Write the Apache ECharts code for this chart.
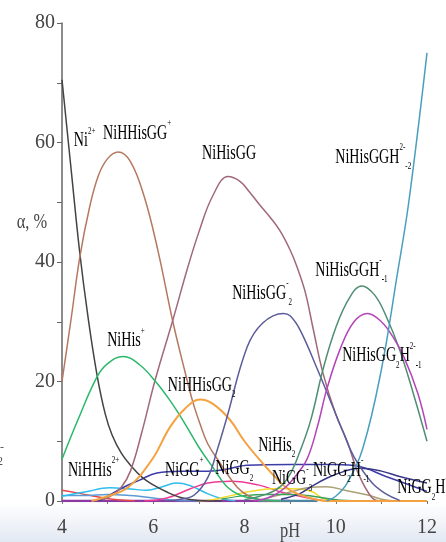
<!DOCTYPE html>
<html>
<head>
<meta charset="utf-8">
<script src="https://cdn.jsdelivr.net/npm/echarts@6/dist/echarts.min.js"></script>
<style>
html, body { margin: 0; padding: 0; background: #fff; }
#chart { width: 446px; height: 542px; }
</style>
</head>
<body>
<div id="chart"></div>
<script>
"use strict";

// ---------- data: [pH, alpha %] ----------
const ni = [[4, 70.5], [4.2, 55.5], [4.39, 41.5], [4.57, 30.8], [4.77, 21], [4.95, 14.5], [5.1, 11], [5.3, 8], [5.5, 6], [5.75, 4], [6.0, 2.7], [6.3, 1.5], [6.6, 0.6], [7.0, 0.1], [7.5, 0]];
const niHHisGG = [[4, 20], [4.2, 30.5], [4.39, 40.8], [4.6, 49], [4.8, 54.5], [5.0, 57.3], [5.23, 58.4], [5.5, 56.8], [5.8, 51], [6.1, 42], [6.43, 30], [6.7, 21.5], [6.87, 16.5], [7.03, 12.8], [7.2, 9.5], [7.47, 6.3], [7.84, 2.3], [8.1, 0.8], [8.4, 0.1], [8.8, 0]];
const niHisGG = [[4.9, 0.2], [5.1, 1], [5.3, 2.3], [5.5, 5], [5.75, 11.5], [6.04, 20.2], [6.43, 30.3], [6.76, 39.2], [7.0, 45], [7.3, 51], [7.64, 54.3], [7.9, 53.5], [8.1, 51.8], [8.34, 49.5], [8.56, 47.5], [8.78, 45.2], [9.0, 42], [9.15, 39.2], [9.33, 35], [9.5, 29], [9.72, 21.4], [10.0, 14.5], [10.25, 10], [10.5, 4.5], [10.8, 0.5], [11.0, 0]];
const niHisGGHm2 = [[9.8, 0], [10.0, 0.8], [10.25, 3], [10.6, 9], [11.0, 22], [11.35, 38], [11.6, 50], [12, 75]];
const niHisGGHm1 = [[8.0, 0.2], [8.5, 1.2], [8.8, 2.5], [9.0, 4.5], [9.2, 8], [9.45, 13.5], [9.72, 22], [10.0, 29], [10.3, 34], [10.57, 36], [10.85, 34.5], [11.1, 31], [11.4, 25.3], [11.7, 18], [12, 10]];
const niHisGG2Hm1 = [[8.2, 0], [8.6, 0.8], [8.9, 2.3], [9.1, 4], [9.37, 7], [9.6, 12.5], [9.8, 18.6], [10.1, 25.5], [10.4, 30], [10.7, 31.4], [11.0, 30], [11.25, 27.5], [11.5, 24], [11.8, 18], [12, 12]];
const niHisGG2 = [[6.3, 0], [6.6, 0.3], [6.9, 1], [7.2, 4], [7.4, 8.5], [7.6, 13.6], [8.06, 25.8], [8.4, 29.8], [8.85, 31.4], [9.0, 31], [9.22, 28.6], [9.6, 22], [10.17, 11.4], [10.4, 7.4], [10.8, 3], [11.1, 1.2], [11.4, 0.1]];
const niHis = [[4, 7], [4.35, 13.6], [4.77, 20.8], [5.0, 23], [5.34, 24.2], [5.7, 22.8], [6.05, 20], [6.35, 17], [6.65, 13.5], [7.0, 9], [7.3, 5.7], [7.6, 2.5], [7.9, 1], [8.3, 0.3], [8.8, 0]];
const niHHisGG2 = [[4.65, 0], [5.0, 0.8], [5.45, 2.3], [5.97, 6.9], [6.37, 12.4], [6.7, 15.5], [7.03, 17], [7.3, 16.3], [7.68, 13.6], [8.0, 10], [8.4, 6.3], [8.7, 3.8], [9.0, 1.8], [9.44, 0.5], [9.8, 0], [12, 0]];
const niHHis = [[4, 1.8], [4.3, 1.4], [4.57, 1], [5.0, 0.4], [5.3, 0.15], [5.6, 0]];
const niGGp = [[4, 0.8], [4.5, 1.5], [5.05, 2.2], [5.5, 2], [5.86, 1.8], [6.2, 2.4], [6.5, 3], [6.8, 2.6], [7.2, 1.2], [7.5, 0.4], [7.8, 0]];
const niGGs = [[4, 0.9], [4.5, 0.9], [5.0, 1.1], [5.5, 0.9], [6.0, 0.5], [6.5, 0.1], [7.0, 0]];
const niGG = [[4.8, 0], [5.0, 0.8], [5.35, 2.3], [5.7, 3.5], [6.08, 4.7], [6.6, 5], [7.2, 5], [7.6, 5.3], [8.05, 6], [9.0, 6.1], [10.0, 6.1], [10.5, 5.8], [11.1, 4.1], [11.5, 3], [12, 1.6]];
const niGG2Hm1 = [[8.8, 0.3], [9.2, 1.2], [9.44, 2.3], [9.8, 3.8], [10.2, 5], [10.53, 5.5], [11.0, 5], [11.4, 4.1], [12, 3]];
const niGG2 = [[5.8, 0], [6.3, 0.5], [6.8, 2], [7.2, 3], [7.7, 3.3], [8.3, 2.7], [8.8, 1.5], [9.4, 0.5], [9.8, 0]];
const niGG3 = [[7.0, 0], [7.3, 0.2], [7.7, 0.9], [8.05, 1.5], [8.5, 2], [8.8, 2.1], [9.2, 2], [9.5, 1.5], [9.7, 0.5], [10, 0]];
const niGG2Hm2 = [[8.5, 0.5], [9.0, 1.5], [9.37, 2.2], [9.8, 2.4], [10.2, 1.8], [10.7, 1], [11.0, 0.3], [11.3, 0]];
const niHis2 = [[7.5, 0.3], [8.0, 0.9], [8.5, 1.1], [9.0, 1.1], [9.5, 0.8], [10.0, 0.2], [10.5, 0]];
const baseA = [[4, 0], [9, 0]];
const baseB = [[8.3, 0], [9.6, 0]];

const xTicks = [4, 6, 8, 10, 12];
const yTicks = [0, 20, 40, 60, 80];

// label text + anchor (left edge, mid height) in data coords
const labels = [
  ["{m|Ni}{sup|2+}", 4.26, 60.4],
  ["{m|NiHHisGG}{sup|+}", 4.9, 61.6],
  ["{m|NiHisGG}", 7.07, 58.2],
  ["{m|NiHisGGH}{sup|2-}{sub|-2}", 9.99, 57.6],
  ["{m|NiHisGGH}{sup|-}{sub|-1}", 9.55, 38.7],
  ["{m|NiHisGG}{sup|-}{sub|2}", 7.73, 34.8],
  ["{m|NiHisGG}{sub|2}{m|H}{sup|2-}{sub|-1}", 10.14, 24.4],
  ["{m|NiHis}{sup|+}", 4.99, 26.9],
  ["{m|NiHHisGG}{sub|2}", 6.32, 19.4],
  ["{m|NiHHis}{sup|2+}", 4.13, 5.2],
  ["{m|NiGG}{sup|+}", 6.26, 5.2],
  ["{m|NiGG}{sub|2}", 7.36, 5.5],
  ["{m|NiHis}{sub|2}", 8.3, 9.4],
  ["{m|NiGG}{sup|-}{sub|3}", 8.6, 3.8],
  ["{m|NiGG}{sub|2}{m|H}{sup|-}{sub|-1}", 9.5, 5.2],
  ["{m|NiGG}{sub|2}{m|H}{sup|-}{sub|-2}", 11.35, 2.3],
];

// ---------- chart ----------
const FONT = '"Liberation Serif", "Times New Roman", serif';
const lines = [
  { d: baseA, c: "#8a3aa0", w: 2.5 },
  { d: baseB, c: "#4e86a0", w: 2.5 },
  { d: niHHis, c: "#e84848" },
  { d: niGGs, c: "#5b9bd5" },
  { d: niGGp, c: "#30bcec" },
  { d: niGG2, c: "#ec3c96" },
  { d: niGG3, c: "#f0dc28" },
  { d: niGG2Hm2, c: "#aaa074" },
  { d: niHis2, c: "#3aa05a" },
  { d: niGG, c: "#3c3ca8" },
  { d: niGG2Hm1, c: "#383888" },
  { d: ni, c: "#444444" },
  { d: niHHisGG, c: "#b5785f" },
  { d: niHisGG, c: "#a06878" },
  { d: niHis, c: "#2ab86a" },
  { d: niHHisGG2, c: "#f4a240", w: 2 },
  { d: niHisGG2, c: "#5c5c9c" },
  { d: niHisGGHm1, c: "#4e8e72" },
  { d: niHisGG2Hm1, c: "#b444b8" },
  { d: niHisGGHm2, c: "#4a9ebe" },
];

const chart = echarts.init(document.getElementById("chart"));
chart.setOption({
  animation: false,
  backgroundColor: "#fff",
  grid: { left: 62, right: 19, top: 23, bottom: 41, outerBoundsMode: "none" },
  xAxis: {
    type: "value", min: 4, max: 12, interval: 2,
    axisLine: { show: false },
    axisTick: { show: true, length: 3, lineStyle: { color: "#777" } },
    minorTick: { show: true, splitNumber: 2, length: 3, lineStyle: { color: "#777" } },
    splitLine: { show: false },
    axisLabel: { margin: 17, fontSize: 20, fontFamily: FONT, color: "#444", formatter: (v) => (xTicks.includes(v) ? String(v) : "") },
  },
  yAxis: {
    type: "value", min: 0, max: 80, interval: 20,
    axisLine: { show: true, lineStyle: { color: "#666", width: 1.5 } },
    axisTick: { show: true, length: 5, lineStyle: { color: "#666" } },
    minorTick: { show: true, splitNumber: 2, length: 5, lineStyle: { color: "#666" } },
    splitLine: { show: false },
    axisLabel: { margin: 7, fontSize: 20, fontFamily: FONT, color: "#444", formatter: (v) => (yTicks.includes(v) ? String(v) : "") },
  },
  series: lines.map((s) => ({
    type: "line", data: s.d, smooth: 0.4, showSymbol: false,
    lineStyle: { color: s.c, width: s.w || 1.5 },
  })),
});

// ---------- annotations ----------
const rich = {
  m: { fontSize: 22, fontFamily: FONT, color: "#3a3a3a", lineHeight: 30, verticalAlign: "middle" },
  sup: { fontSize: 11, fontFamily: FONT, color: "#3a3a3a", lineHeight: 12, verticalAlign: "top" },
  sub: { fontSize: 11, fontFamily: FONT, color: "#3a3a3a", lineHeight: 12, verticalAlign: "bottom" },
};
const graphic = [
  {
    type: "rect", left: 0, top: 503, z: -10, silent: true,
    shape: { width: 446, height: 39 },
    style: { fill: new echarts.graphic.LinearGradient(0, 0, 0, 1, [{ offset: 0, color: "#ffffff" }, { offset: 1, color: "#e2e8f2" }]) },
  },
  { type: "text", x: 0, y: 442, style: { text: "-", fontSize: 12, fontFamily: FONT, fill: "#555" } },
  { type: "text", x: -3, y: 456, style: { text: "2", fontSize: 12, fontFamily: FONT, fill: "#555" } },
  // axis titles
  { type: "text", x: 32, y: 222, scaleX: 0.78, style: { text: "α, %", fontSize: 21, fontFamily: FONT, fill: "#444", align: "center", verticalAlign: "middle" } },
  { type: "text", x: 290, y: 531, scaleX: 0.78, style: { text: "pH", fontSize: 21, fontFamily: FONT, fill: "#444", align: "center", verticalAlign: "middle" } },
];
labels.forEach(([t, px, py]) => {
  const p = chart.convertToPixel({ gridIndex: 0 }, [px, py]);
  graphic.push({
    type: "text", x: p[0], y: p[1], scaleX: 0.64, z: 20, silent: true,
    style: { text: t, rich, align: "left", verticalAlign: "middle" },
  });
});
chart.setOption({ graphic });
</script>
</body>
</html>
